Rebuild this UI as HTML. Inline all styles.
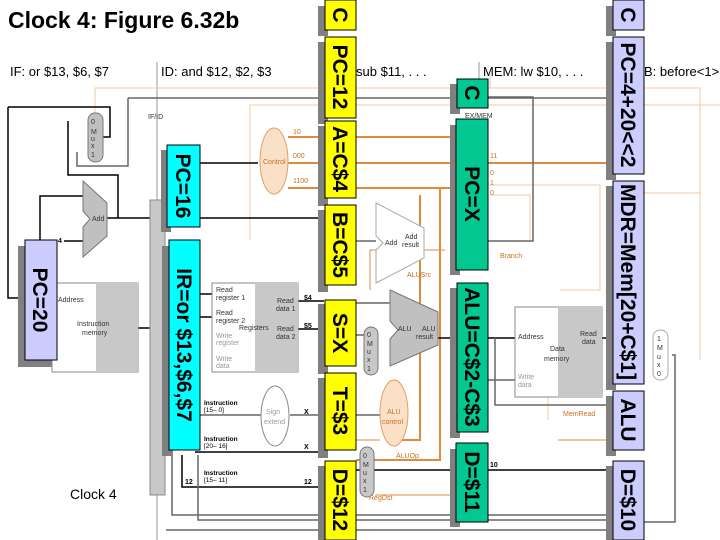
<!DOCTYPE html>
<html><head><meta charset="utf-8"><style>
html,body{margin:0;padding:0;background:#fff;}
svg{display:block;font-family:"Liberation Sans",sans-serif;}
.bx{font-weight:bold;font-size:21px;}
.sm{font-size:7px;fill:#333;}
.og{font-size:7px;fill:#c87020;}
</style></head><body>
<svg width="720" height="540" viewBox="0 0 720 540">
<rect width="720" height="540" fill="#fff"/>
<text x="8" y="28" font-size="23" font-weight="bold" fill="#000">Clock 4: Figure 6.32b</text>
<text x="10" y="76" font-size="13">IF: or $13, $6, $7</text>
<text x="161" y="76" font-size="13">ID: and $12, $2, $3</text>
<text x="356" y="76" font-size="13">sub $11, . . .</text>
<text x="483" y="76" font-size="13">MEM: lw $10, . . .</text>
<text x="644" y="76" font-size="13">B: before&lt;1&gt;</text>
<text x="70" y="499" font-size="14">Clock 4</text>
<line x1="157" y1="62" x2="157" y2="540" stroke="#999"/>
<line x1="479" y1="62" x2="479" y2="80" stroke="#999"/>
<text x="148" y="119" class="sm">IF/ID</text>
<text x="465" y="118" class="sm">EX/MEM</text>

<!-- orange control lines -->
<g stroke="#f0c8a0" fill="none" stroke-width="1">
<path d="M95 115 V88 H700 V250"/>
<path d="M250 105 H720"/>
<path d="M250 105 V240"/>
<path d="M490 185 H600 V290 H560"/>
<path d="M490 195 H530 V240"/>
<path d="M490 88 V75"/>
<path d="M620 193 H700 V360"/>
<path d="M548 330 V420"/>
</g>
<g stroke="#e08a40" fill="none" stroke-width="2">
<path d="M288 137 H330"/><path d="M288 163 H330"/><path d="M288 188 H330"/>
<path d="M356 137 H460"/><path d="M356 163 H460"/><path d="M356 188 H460"/>
<path d="M488 163 H612"/>
<path d="M440 188 V460 H356"/><path d="M420 195 V440 H400"/>
</g>
<g stroke="#e08a40" fill="none" stroke-width="1">
<path d="M370 290 V250 H445"/><path d="M375 495 H460"/><path d="M356 440 H380"/>
<path d="M558 440 H612"/>
</g>
<text x="293" y="134" class="og">10</text><text x="293" y="158" class="og">000</text><text x="293" y="183" class="og">1100</text>
<text x="490" y="158" class="og">11</text><text x="490" y="175" class="og">0</text><text x="490" y="185" class="og">1</text><text x="490" y="195" class="og">0</text>
<text x="407" y="277" class="og">ALUSrc</text><text x="396" y="458" class="og">ALUOp</text><text x="369" y="500" class="og">RegDst</text>
<text x="563" y="416" class="og">MemRead</text><text x="500" y="258" class="og">Branch</text>

<!-- black/gray datapath lines -->
<g stroke="#000" fill="none" stroke-width="1.5">
<path d="M8 107 H110 V137 H103"/><path d="M8 107 V298 H20"/>
<path d="M40 240 V196 H83"/><path d="M64 241 H83"/>
<path d="M107 218 H150"/><path d="M68 121 V175 H118 V218"/>
<path d="M138 328 H150"/>
<path d="M200 163 H258"/><path d="M200 218 H324"/>
<path d="M200 294 H212"/><path d="M200 317 H212"/>
<path d="M298 301 H324"/><path d="M298 329 H324"/>
<path d="M195 452 H324"/><path d="M182 455 V487 H324"/>
<path d="M356 470 H612"/><path d="M488 338 H515"/><path d="M602 338 H612"/>
<path d="M438 338 H457"/>
</g>
<g stroke="#666" fill="none" stroke-width="1.5">
<path d="M128 98 H612"/><path d="M77 152 V166 H128 V98"/>
<path d="M488 97 H533 V241 H488"/>
<path d="M356 241 H376"/>
<path d="M356 303 H390"/><path d="M356 335 H365"/><path d="M356 415 H380"/>
<path d="M200 415 H261"/><path d="M290 415 H324"/>
<path d="M488 380 H515"/><path d="M495 338 V405 H612"/>
<path d="M672 355 H675 V522 H644"/>
<path d="M172 450 V515 H612"/><path d="M198 455 V520 H612"/>
<path d="M166 530 H612"/>
</g>
<text x="304" y="300" font-size="7" font-weight="bold">$4</text>
<text x="304" y="328" font-size="7" font-weight="bold">$5</text>
<text x="304" y="414" font-size="7" font-weight="bold">X</text>
<text x="304" y="449" font-size="7" font-weight="bold">X</text>
<text x="304" y="484" font-size="7" font-weight="bold">12</text>
<text x="185" y="484" font-size="7" font-weight="bold">12</text>
<text x="490" y="467" font-size="7" font-weight="bold">10</text>
<text x="58" y="243" font-size="7" font-weight="bold">4</text>

<!-- IF/ID bar -->
<rect x="150" y="200" width="15" height="295" fill="#c8c8c8" stroke="#888"/>
<!-- instruction memory -->
<rect x="52" y="283" width="86" height="89" fill="#fff" stroke="#888"/>
<rect x="96" y="283" width="42" height="89" fill="#c8c8c8"/>
<text x="58" y="302" class="sm">Address</text>
<text x="77" y="326" class="sm">Instruction</text><text x="82" y="335" class="sm">memory</text>
<!-- add IF -->
<path d="M83 181 L107 203 L107 236 L83 257 L83 227 L90 219 L83 211 Z" fill="#c0c0c0" stroke="#777"/>
<text x="92" y="221" class="sm">Add</text>
<!-- mux IF -->
<rect x="88" y="113" width="15" height="49" rx="7" fill="#c0c0c0" stroke="#777"/>
<text x="91" y="124" class="sm">0</text><text x="91" y="134" class="sm">M</text><text x="91" y="141" class="sm">u</text><text x="91" y="148" class="sm">x</text><text x="91" y="157" class="sm">1</text>
<!-- registers -->
<rect x="212" y="283" width="86" height="89" fill="#fff" stroke="#888"/>
<rect x="255" y="283" width="43" height="89" fill="#c8c8c8"/>
<text x="216" y="292" class="sm">Read</text><text x="216" y="300" class="sm">register 1</text>
<text x="216" y="315" class="sm">Read</text><text x="216" y="323" class="sm">register 2</text>
<text x="216" y="338" fill="#999" font-size="7">Write</text><text x="216" y="345" fill="#999" font-size="7">register</text>
<text x="216" y="361" fill="#999" font-size="7">Write</text><text x="216" y="368" fill="#999" font-size="7">data</text>
<text x="239" y="330" class="sm">Registers</text>
<text x="277" y="303" class="sm">Read</text><text x="276" y="311" class="sm">data 1</text>
<text x="277" y="331" class="sm">Read</text><text x="276" y="339" class="sm">data 2</text>
<text x="204" y="405" font-size="6.5" font-weight="bold">Instruction</text><text x="204" y="412" font-size="6.5">[15– 0]</text>
<text x="204" y="441" font-size="6.5" font-weight="bold">Instruction</text><text x="204" y="448" font-size="6.5">[20– 16]</text>
<text x="204" y="475" font-size="6.5" font-weight="bold">Instruction</text><text x="204" y="482" font-size="6.5">[15– 11]</text>
<ellipse cx="275" cy="416" rx="14" ry="30" fill="#fff" stroke="#888"/>
<text x="266" y="414" fill="#999" font-size="7">Sign</text><text x="264" y="424" fill="#999" font-size="7">extend</text>
<ellipse cx="274" cy="161" rx="14" ry="33" fill="#fbe0c8" stroke="#e0a060"/>
<text x="263" y="164" class="og">Control</text>
<!-- EX adder -->
<path d="M376 203 L424 228 L424 258 L376 283 L376 250 L383 243 L376 236 Z" fill="#fff" stroke="#aaa"/>
<text x="385" y="245" class="sm">Add</text><text x="405" y="239" class="sm">Add</text><text x="402" y="247" class="sm">result</text>
<!-- ALU -->
<path d="M390 290 L438 312 L438 345 L390 366 L390 339 L398 330 L390 321 Z" fill="#c0c0c0" stroke="#777"/>
<text x="398" y="331" class="sm">ALU</text><text x="422" y="331" class="sm">ALU</text><text x="416" y="339" class="sm">result</text>
<rect x="364" y="327" width="14" height="48" rx="7" fill="#c8c8c8" stroke="#777"/>
<text x="367" y="337" class="sm">0</text><text x="367" y="346" class="sm">M</text><text x="367" y="354" class="sm">u</text><text x="367" y="362" class="sm">x</text><text x="367" y="371" class="sm">1</text>
<ellipse cx="394" cy="413" rx="14" ry="33" fill="#fbe0c8" stroke="#e0a060"/>
<text x="387" y="414" class="og">ALU</text><text x="382" y="424" class="og">control</text>
<rect x="360" y="447" width="14" height="50" rx="7" fill="#c8c8c8" stroke="#777"/>
<text x="363" y="458" class="sm">0</text><text x="363" y="467" class="sm">M</text><text x="363" y="475" class="sm">u</text><text x="363" y="483" class="sm">x</text><text x="363" y="492" class="sm">1</text>
<!-- data memory -->
<rect x="515" y="307" width="87" height="90" fill="#fff" stroke="#888"/>
<rect x="558" y="307" width="44" height="90" fill="#c8c8c8"/>
<text x="518" y="339" class="sm">Address</text><text x="550" y="351" class="sm">Data</text><text x="544" y="361" class="sm">memory</text>
<text x="518" y="379" fill="#999" font-size="7">Write</text><text x="518" y="387" fill="#999" font-size="7">data</text>
<text x="580" y="336" class="sm">Read</text><text x="582" y="344" class="sm">data</text>
<rect x="653" y="330" width="15" height="50" rx="7" fill="#fff" stroke="#aaa"/>
<text x="657" y="341" class="sm">1</text><text x="657" y="350" class="sm">M</text><text x="657" y="359" class="sm">u</text><text x="657" y="367" class="sm">x</text><text x="657" y="376" class="sm">0</text>

<!-- pipeline value boxes -->
<g>
<!-- shadows -->
<g fill="#808080">
<rect x="318" y="6" width="10" height="30"/><rect x="318" y="42" width="10" height="82"/>
<rect x="318" y="126" width="10" height="80"/><rect x="318" y="210" width="10" height="82"/>
<rect x="318" y="304" width="10" height="70"/><rect x="318" y="378" width="10" height="80"/>
<rect x="318" y="466" width="10" height="74"/>
<rect x="161" y="150" width="10" height="82"/><rect x="162" y="246" width="10" height="210"/>
<rect x="18" y="246" width="10" height="121"/><rect x="18" y="360" width="34" height="7"/>
<rect x="450" y="84" width="10" height="30"/><rect x="450" y="125" width="10" height="150"/>
<rect x="450" y="288" width="10" height="150"/><rect x="450" y="449" width="10" height="78"/>
<rect x="606" y="6" width="10" height="30"/><rect x="606" y="42" width="10" height="138"/>
<rect x="606" y="186" width="10" height="204"/><rect x="606" y="396" width="10" height="60"/>
<rect x="606" y="466" width="10" height="74"/>
</g>
<g stroke="#000" stroke-width="1">
<rect x="325" y="0" width="31" height="30" fill="#ffff00"/>
<rect x="325" y="37" width="31" height="81" fill="#ffff00"/>
<rect x="325" y="121" width="31" height="77" fill="#ffff00"/>
<rect x="325" y="205" width="31" height="80" fill="#ffff00"/>
<rect x="325" y="300" width="31" height="66" fill="#ffff00"/>
<rect x="325" y="373" width="31" height="77" fill="#ffff00"/>
<rect x="325" y="461" width="31" height="79" fill="#ffff00"/>
<rect x="167" y="145" width="33" height="82" fill="#00ffff"/>
<rect x="169" y="240" width="31" height="210" fill="#00ffff"/>
<rect x="25" y="240" width="32" height="120" fill="#ccccff"/>
<rect x="457" y="79" width="31" height="29" fill="#00c890"/>
<rect x="456" y="119" width="32" height="151" fill="#00c890"/>
<rect x="457" y="283" width="31" height="149" fill="#00c890"/>
<rect x="456" y="443" width="32" height="79" fill="#00c890"/>
<rect x="613" y="0" width="31" height="30" fill="#ccccff"/>
<rect x="613" y="37" width="31" height="137" fill="#ccccff"/>
<rect x="613" y="181" width="31" height="203" fill="#ccccff"/>
<rect x="613" y="391" width="31" height="59" fill="#ccccff"/>
<rect x="613" y="461" width="31" height="79" fill="#ccccff"/>
</g>
<g class="bx" fill="#000" text-anchor="middle">
<text transform="translate(333,15) rotate(90)">C</text>
<text transform="translate(333,77) rotate(90)">PC=12</text>
<text transform="translate(333,159) rotate(90)">A=C$4</text>
<text transform="translate(333,245) rotate(90)">B=C$5</text>
<text transform="translate(333,333) rotate(90)">S=X</text>
<text transform="translate(333,411) rotate(90)">T=$3</text>
<text transform="translate(333,500) rotate(90)">D=$12</text>
<text transform="translate(176,186) rotate(90)">PC=16</text>
<text transform="translate(177,345) rotate(90)">IR=or $13,$6,$7</text>
<text transform="translate(33,300) rotate(90)">PC=20</text>
<text transform="translate(465,93) rotate(90)">C</text>
<text transform="translate(465,194) rotate(90)">PC=X</text>
<text transform="translate(465,357) rotate(90)">ALU=C$2-C$3</text>
<text transform="translate(465,482) rotate(90)">D=$11</text>
<text transform="translate(621,15) rotate(90)">C</text>
<text transform="translate(621,105) rotate(90)">PC=4+20&lt;&lt;2</text>
<text transform="translate(621,282) rotate(90)">MDR=Mem[20+C$1]</text>
<text transform="translate(621,420) rotate(90)">ALU</text>
<text transform="translate(621,500) rotate(90)">D=$10</text>
</g>
</g>
</svg>
</body></html>
